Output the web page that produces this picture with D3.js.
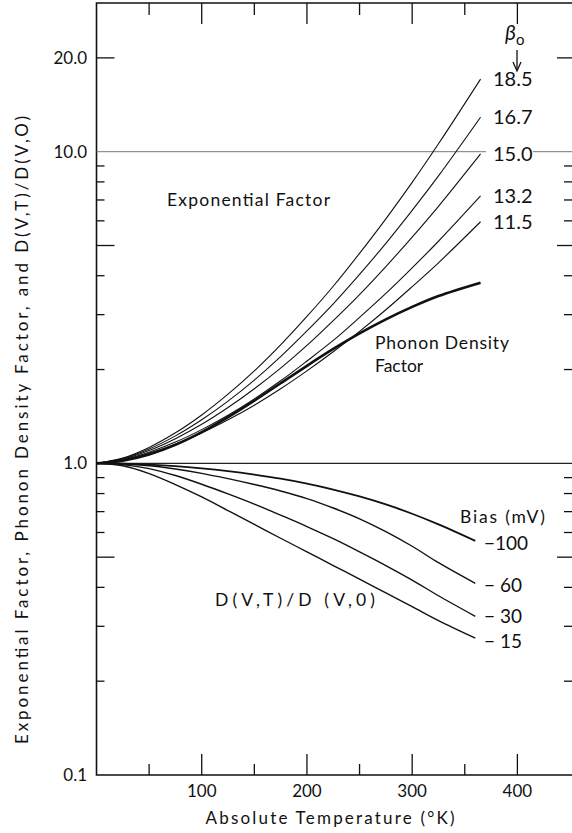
<!DOCTYPE html>
<html>
<head>
<meta charset="utf-8">
<script src="https://cdn.jsdelivr.net/npm/d3@7"></script>
<style>
  body { margin: 0; background: #fff; }
  svg { display: block; }
  text { font-family: Lato, "Noto Sans", sans-serif; fill: #111; }
</style>
</head>
<body>
<div id="container"></div>
<script>
// temperatures (K)
const expTemps = [0, 25, 50, 75, 100, 125, 150, 175, 200, 225, 250, 275, 300, 325, 365];
const biasTemps = [0, 25, 50, 75, 100, 125, 150, 175, 200, 225, 250, 275, 300, 325, 360];

// exponential factor, one list per beta_0
const betaLabels = ["18.5", "16.7", "15.0", "13.2", "11.5"];
const exp185 = [1, 1.04, 1.125, 1.253, 1.43, 1.667, 1.98, 2.40, 2.96, 3.70, 4.72, 6.09, 7.97, 10.6, 17.1];
const exp167 = [1, 1.036, 1.112, 1.225, 1.38, 1.584, 1.85, 2.20, 2.66, 3.25, 4.04, 5.08, 6.48, 8.36, 12.9];
const exp150 = [1, 1.032, 1.10, 1.20, 1.334, 1.51, 1.735, 2.02, 2.39, 2.87, 3.48, 4.28, 5.32, 6.68, 9.84];
const exp132 = [1, 1.027, 1.086, 1.17, 1.283, 1.427, 1.61, 1.84, 2.13, 2.48, 2.94, 3.51, 4.24, 5.16, 7.21];
const exp115 = [1, 1.025, 1.077, 1.153, 1.252, 1.379, 1.537, 1.735, 1.98, 2.28, 2.65, 3.11, 3.69, 4.40, 5.96];

// phonon density factor
const phonon = [1, 1.019, 1.067, 1.146, 1.259, 1.406, 1.589, 1.807, 2.056, 2.328, 2.612, 2.897, 3.177, 3.443, 3.80];

// D(V,T)/D(V,0) for each bias
const biasLabels = ["\u2212100", "\u2212 60", "\u2212 30", "\u2212 15"];
const bias100 = [1, 0.998, 0.991, 0.980, 0.964, 0.944, 0.920, 0.893, 0.861, 0.824, 0.783, 0.738, 0.689, 0.637, 0.564];
const bias60 = [1, 0.995, 0.982, 0.959, 0.929, 0.893, 0.855, 0.815, 0.771, 0.719, 0.664, 0.604, 0.542, 0.480, 0.412];
const bias30 = [1, 0.991, 0.962, 0.914, 0.857, 0.798, 0.740, 0.682, 0.627, 0.573, 0.520, 0.470, 0.422, 0.376, 0.323];
const bias15 = [1, 0.982, 0.927, 0.855, 0.780, 0.705, 0.637, 0.575, 0.520, 0.470, 0.425, 0.384, 0.347, 0.313, 0.275];

const xMajor = [100, 200, 300, 400];
const xMinor = [50, 150, 250, 350];
const yLabelled = [0.1, 1, 10, 20];

const width = 572, height = 833;
const plotLeft = 96.5, plotRight = 570, plotTop = 3, plotBottom = 775;

const x = d3.scaleLinear().domain([0, 450]).range([plotLeft, plotRight]);
const y = d3.scaleLog().domain([0.1, 30]).range([plotBottom, plotTop]);

const svg = d3.create("svg")
    .attr("width", width)
    .attr("height", height);

const ink = "#111";

// frame: left + top + bottom
svg.append("path")
    .attr("fill", "none")
    .attr("stroke", ink)
    .attr("stroke-width", 1.6)
    .attr("d", `M${width},${plotTop}H${plotLeft}V${plotBottom}H${width}`);

// reference lines at 10 and 1
svg.append("line")
    .attr("x1", plotLeft).attr("x2", 486)
    .attr("y1", y(10)).attr("y2", y(10))
    .attr("stroke", "#777").attr("stroke-width", 1);
svg.append("line")
    .attr("x1", 533).attr("x2", width)
    .attr("y1", y(10)).attr("y2", y(10))
    .attr("stroke", "#777").attr("stroke-width", 1);
svg.append("line")
    .attr("x1", plotLeft).attr("x2", width)
    .attr("y1", y(1)).attr("y2", y(1))
    .attr("stroke", "#222").attr("stroke-width", 1.3);

// x ticks, bottom (pointing up) and top (pointing down)
const ticks = svg.append("g").attr("stroke", ink).attr("stroke-width", 1.3);
xMajor.forEach(v => {
    ticks.append("line").attr("x1", x(v)).attr("x2", x(v)).attr("y1", plotBottom).attr("y2", plotBottom - 21);
    ticks.append("line").attr("x1", x(v)).attr("x2", x(v)).attr("y1", plotTop).attr("y2", plotTop + 21);
});
xMinor.forEach(v => {
    ticks.append("line").attr("x1", x(v)).attr("x2", x(v)).attr("y1", plotBottom).attr("y2", plotBottom - 11);
    ticks.append("line").attr("x1", x(v)).attr("x2", x(v)).attr("y1", plotTop).attr("y2", plotTop + 12);
});

// y ticks, left and right
const yTickVals = [];
[0.1, 1, 10].forEach(d => {
    for (let k = 1; k <= 9; k++) {
        const v = +(d * k).toFixed(2);
        if (v > 0.1 && v < 30 && v !== 1 && v !== 10) yTickVals.push(v);
    }
});
yTickVals.forEach(v => {
    const long = (v === 20 || v === 5 || v === 0.5);
    ticks.append("line")
        .attr("x1", plotLeft).attr("x2", plotLeft + (long ? 18 : 8))
        .attr("y1", y(v)).attr("y2", y(v));
    ticks.append("line")
        .attr("x1", width).attr("x2", width - (long ? 15 : 8))
        .attr("y1", y(v)).attr("y2", y(v));
});

// y tick labels
svg.append("g")
    .selectAll("text")
    .data(yLabelled)
    .join("text")
    .attr("x", 87)
    .attr("y", d => y(d))
    .attr("dy", "0.36em")
    .attr("text-anchor", "end")
    .style("font-size", "17px")
    .text(d => d < 1 ? "0.1" : d3.format(".1f")(d));

// x tick labels
svg.append("g")
    .selectAll("text")
    .data(xMajor)
    .join("text")
    .attr("x", d => x(d))
    .attr("y", 797)
    .attr("text-anchor", "middle")
    .style("font-size", "17px")
    .text(d => d);

// axis titles
svg.append("text")
    .attr("x", 330).attr("y", 824)
    .attr("text-anchor", "middle")
    .attr("textLength", 249)
    .attr("lengthAdjust", "spacing")
    .style("font-size", "17px")
    .text("Absolute Temperature (\u00B0K)");

svg.append("text")
    .attr("transform", "translate(28,430) rotate(-90)")
    .attr("text-anchor", "middle")
    .attr("textLength", 628)
    .attr("lengthAdjust", "spacing")
    .style("font-size", "17px")
    .text("Exponential Factor, Phonon Density Factor, and D(V,T)/D(V,O)");

// curves
const line = (ts) => d3.line()
    .x((d, i) => x(ts[i]))
    .y(d => y(d))
    .curve(d3.curveCatmullRom.alpha(0.5));

const expSeries = [exp185, exp167, exp150, exp132, exp115];
const biasSeries = [bias100, bias60, bias30, bias15];

svg.append("g")
    .attr("fill", "none")
    .attr("stroke", ink)
    .attr("stroke-width", 1.1)
    .selectAll("path")
    .data(expSeries)
    .join("path")
    .attr("d", d => line(expTemps)(d));

svg.append("path")
    .attr("fill", "none")
    .attr("stroke", ink)
    .attr("stroke-width", 2.6)
    .attr("d", line(expTemps)(phonon));

svg.append("g")
    .attr("fill", "none")
    .attr("stroke", ink)
    .selectAll("path")
    .data(biasSeries)
    .join("path")
    .attr("stroke-width", (d, i) => i === 0 ? 1.8 : 1.4)
    .attr("d", d => line(biasTemps)(d));

// curve labels
svg.append("g")
    .selectAll("text")
    .data(expSeries)
    .join("text")
    .attr("x", 493)
    .attr("y", d => y(d[d.length - 1]))
    .attr("dy", "0.36em")
    .style("font-size", "20px")
    .text((d, i) => betaLabels[i]);

const biasNudge = [2, 2, 0, 3];
svg.append("g")
    .selectAll("text")
    .data(biasSeries)
    .join("text")
    .attr("x", 484)
    .attr("y", (d, i) => y(d[d.length - 1]) + biasNudge[i])
    .attr("dy", "0.36em")
    .style("font-size", "19px")
    .text((d, i) => biasLabels[i]);

// beta_0 header with arrow
const beta = svg.append("text").attr("x", 505).attr("y", 40).style("font-size", "21px").style("font-style", "italic");
beta.append("tspan").text("\u03B2");
beta.append("tspan").attr("dy", 5).style("font-size", "15px").style("font-style", "normal").text("o");
svg.append("line")
    .attr("x1", 517).attr("x2", 517).attr("y1", 50).attr("y2", 69)
    .attr("stroke", ink).attr("stroke-width", 1.3);
svg.append("path")
    .attr("d", "M513,62L517,71L521,62")
    .attr("fill", "none").attr("stroke", ink).attr("stroke-width", 1.3);

// annotations
svg.append("text").attr("x", 167).attr("y", 206).style("font-size", "17.5px")
    .attr("textLength", 163).attr("lengthAdjust", "spacing")
    .text("Exponential Factor");
svg.append("text").attr("x", 375).attr("y", 349).style("font-size", "17.5px")
    .attr("textLength", 134).attr("lengthAdjust", "spacing")
    .text("Phonon Density");
svg.append("text").attr("x", 375).attr("y", 372).style("font-size", "17.5px")
    .text("Factor");
svg.append("text").attr("x", 460).attr("y", 523).style("font-size", "17.5px")
    .attr("textLength", 85).attr("lengthAdjust", "spacing")
    .text("Bias (mV)");
svg.append("text").attr("x", 215).attr("y", 606).style("font-size", "17.5px")
    .attr("textLength", 160).attr("lengthAdjust", "spacing")
    .text("D(V,T)/D (V,0)");

document.getElementById("container").append(svg.node());
</script>
</body>
</html>
